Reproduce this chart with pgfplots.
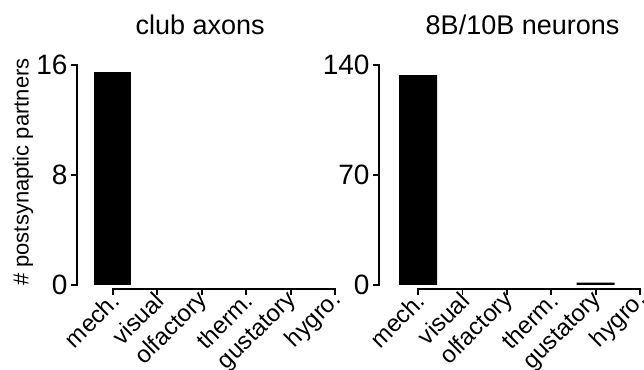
\documentclass[border=0pt]{standalone}
\usepackage{pgfplots}
\pgfplotsset{compat=1.18}
\usepackage{fontspec}
\setmainfont{Liberation Sans}
\begin{document}
\begin{tikzpicture}
\path[use as bounding box] (0pt,0pt) rectangle (644pt,369pt);
\pgfplotsset{
  myax/.style={
    scale only axis, anchor=south west, clip=false,
    axis line style={draw=none},
    ybar, unbounded coords=discard,
    xtick={0,1,2,3,4,5},
    xticklabels={mech.,visual,olfactory,therm.,gustatory,hygro.},
    xtick pos=bottom, ytick pos=left, tick align=outside,
    major tick length=6pt,
    major tick style={black, line width=1.8pt},
    /pgf/number format/assume math mode=true,
    xticklabel style={rotate=45, anchor=east, font=\fontsize{24}{27}\selectfont, xshift=4pt, yshift=-3pt},
    yticklabel style={font=\fontsize{28}{32}\selectfont},
    title style={font=\fontsize{27}{30}\selectfont, at={(axis description cs:0.5,1)}, anchor=base, yshift=24pt},
  }
}
\begin{axis}[myax, at={(77pt,80pt)},
  xmin=-0.8, xmax=5, width=258.1pt,
  ymin=-0.29, ymax=16, height=224pt,
  ytick={0,8,16}, bar width=37pt,
  title={club axons}, title style={xshift=-6pt},
  ylabel={\# postsynaptic partners},
  ylabel style={font=\fontsize{22}{26}\selectfont, at={(axis description cs:-0.209,0.522)}, anchor=center},
]
\addplot[fill=black, draw=none, y filter/.expression={y==0 ? nan : y}] coordinates {(0,15.5) (1,0) (2,0) (3,0) (4,0) (5,0)};
\draw[line width=1.8pt, line cap=rect] (axis cs:-0.8,0) -- (axis cs:-0.8,16);
\draw[line width=1.8pt, line cap=rect] (axis cs:0,-0.29) -- (axis cs:5,-0.29);
\end{axis}
\begin{axis}[myax, at={(379pt,80pt)},
  xmin=-0.88, xmax=5, width=261.1pt,
  ymin=-2.55, ymax=140, height=224pt,
  ytick={0,70,140}, bar width=38pt,
  title={8B/10B neurons}, title style={xshift=13pt},
]
\addplot[fill=black, draw=none, y filter/.expression={y==0 ? nan : y}] coordinates {(0,133.5) (1,0) (2,0) (3,0) (4,1.5) (5,0)};
\draw[line width=1.8pt, line cap=rect] (axis cs:-0.88,0) -- (axis cs:-0.88,140);
\draw[line width=1.8pt, line cap=rect] (axis cs:0,-2.55) -- (axis cs:5,-2.55);
\end{axis}
\end{tikzpicture}
\end{document}
